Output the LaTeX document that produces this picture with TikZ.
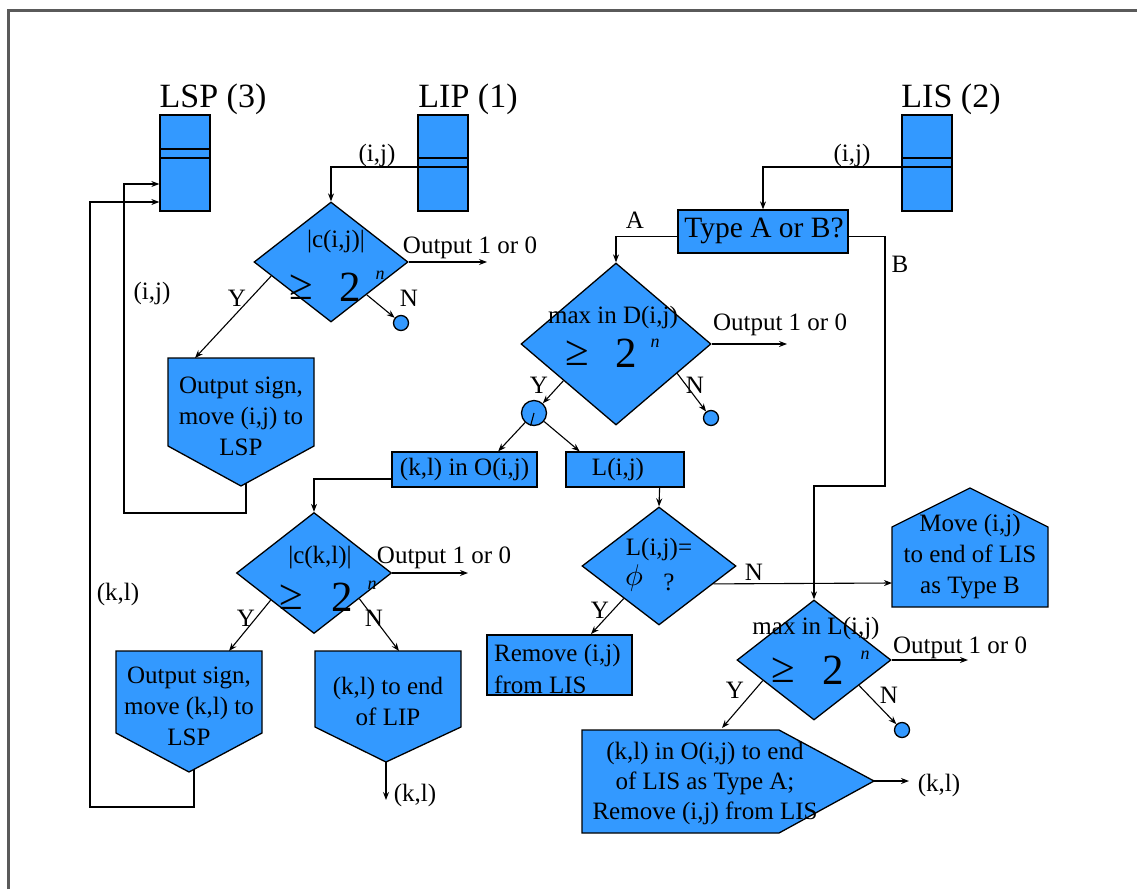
\documentclass[tikz,border=0pt]{standalone}
\usepackage{fontspec}
\setmainfont{Liberation Serif}
\newfontfamily\tms{Liberation Serif}
\usetikzlibrary{shapes.geometric,arrows.meta,calc}
\definecolor{fillblue}{RGB}{51,153,255}
\definecolor{framegray}{RGB}{90,90,90}
\begin{document}
\begin{tikzpicture}[x=1pt,y=-1pt,
  blk/.style={draw=black,fill=fillblue,line width=1.3pt},
  dia/.style={blk,shape=diamond,inner sep=0pt},
  stack/.style={blk,minimum width=50pt,minimum height=96pt,inner sep=0pt},
  boxn/.style={blk,inner sep=0pt},
  conn/.style={line width=1.1pt,draw=black},
  arr/.style={conn,-{Stealth[length=8pt,width=6pt]}},
  lbl/.style={font=\tms\fontsize{25}{31}\selectfont,inner sep=0pt},
  boxtxt/.style={font=\tms\fontsize{29.5}{32}\selectfont,inner sep=0pt},
  bigtxt/.style={font=\tms\fontsize{43}{43}\selectfont,inner sep=0pt},
  suptxt/.style={font=\tms\itshape\fontsize{18}{18}\selectfont,inner sep=0pt},
  headtxt/.style={font=\tms\fontsize{34}{38}\selectfont,inner sep=0pt},
  endc/.style={blk,circle,inner sep=0pt,minimum size=15pt},
]
\useasboundingbox (0,0) rectangle (1137,889);
% frame
\draw[framegray,line width=3pt] (8,889) -- (8,10.5) -- (1137,10.5);

% headers
\node[headtxt] (lsph) at (213,99) {LSP (3)};
\node[headtxt] (liph) at (468,99) {LIP (1)};
\node[headtxt] (lish) at (951,99) {LIS (2)};

% stacks
\node[stack] (lsp) at (185,163) {};
\draw[line width=1.3pt] (lsp.west |- 0,149) -- (lsp.east |- 0,149) (lsp.west |- 0,158) -- (lsp.east |- 0,158);
\node[stack] (lip) at (443,163) {};
\draw[line width=1.3pt] (lip.west |- 0,158) -- (lip.east |- 0,158) (lip.west |- 0,167) -- (lip.east |- 0,167);
\node[stack] (lis) at (927,163) {};
\draw[line width=1.3pt] (lis.west |- 0,158) -- (lis.east |- 0,158) (lis.west |- 0,167) -- (lis.east |- 0,167);

% diamond 1
\node[dia,minimum width=154pt,minimum height=120pt] (d1) at (331,262) {};
\node[lbl] (d1a) at (336,242) {|c(i,j)|};
\node[bigtxt] (d1b) at (301,287) {≥};
\node[bigtxt] (d1c) at (350,287) {2};
\node[suptxt] (d1n) at (380,275) {n};
\draw[arr] (lip.west |- 0,167) -| (d1.north);
\node[lbl] (lij1) at (377,155) {(i,j)};
\coordinate (o1) at (487,262);
\draw[arr] (d1.east) -- (o1);
\node[lbl] (o1t) at (470,248) {Output 1 or 0};
\node[endc] (c1) at (401,323) {};
\draw[arr] ($(d1.east)!0.54!(d1.south)$) -- (c1);
\node[lbl] (n1) at (409,298) {N};
\coordinate (p1top) at (195,358);
\draw[arr] ($(d1.west)!0.23!(d1.south)$) -- (p1top);
\node[lbl] (y1) at (237,298) {Y};

% pentagon 1
\draw[blk] (168,358) -- (314,358) -- (314,446) -- (241,486) -- (168,446) -- cycle;
\node[lbl,align=center] (p1t) at (241,416) {Output sign,\\move (i,j) to\\LSP};
\coordinate (l1s) at (246,483);
\coordinate (l1a) at (246,513);
\coordinate (l1b) at (124,513);
\coordinate (l1c) at (124,184);
\draw[arr] (l1s) -- (l1a) -- (l1b) -- (l1c) -- (lsp.west |- l1c);
\node[lbl] (lij2) at (152,293) {(i,j)};

% type box
\node[boxn,minimum width=170pt,minimum height=43pt] (tb) at (763,231.5) {};
\node[boxtxt] (tbt) at (764,231) {Type A or B?};
\draw[arr] (lis.west |- 0,167) -| (tb.north);
\node[lbl] (lij3) at (852,155) {(i,j)};

% diamond 2
\node[dia,minimum width=190pt,minimum height=162pt] (d2) at (616,344) {};
\node[lbl] (d2a) at (613,317) {max in D(i,j)};
\node[bigtxt] (d2b) at (577,353) {≥};
\node[bigtxt] (d2c) at (626,353) {2};
\node[suptxt] (d2n) at (655,343) {n};
\draw[arr] ($(tb.west)+(0,5)$) -| (d2.north);
\node[lbl] (la) at (635,220) {A};
\coordinate (o2) at (787,344);
\draw[arr] (d2.east) -- (o2);
\node[lbl] (o2t) at (780,325) {Output 1 or 0};
\node[endc] (c3) at (711,418) {};
\draw[arr] ($(d2.east)!0.36!(d2.south)$) -- (c3);
\node[lbl] (n2) at (695,385) {N};
\node[blk,circle,inner sep=0pt,minimum size=25pt] (c2) at (534,413) {};
\draw[arr] ($(d2.west)!0.45!(d2.south)$) -- (c2);
\draw[line width=1.1pt] (c2.center) -- (c2.255);
\node[lbl] (y2) at (539,385) {Y};

% B path
\coordinate (bc) at (885,486);
\node[lbl] (lb) at (900,264) {B};

% O box and L box
\node[boxn,minimum width=145pt,minimum height=35pt] (ob) at (464.5,469.5) {};
\node[lbl] (obt) at (464.5,469) {(k,l) in O(i,j)};
\node[boxn,minimum width=118pt,minimum height=35pt] (lb2) at (625,469.5) {};
\node[lbl] (lbt) at (618,469) {L(i,j)};
\draw[arr] (c2) -- ($(ob.north west)!0.73!(ob.north east)$);
\draw[arr] (c2) -- ($(lb2.north west)!0.12!(lb2.north east)$);

% diamond 3
\node[dia,minimum width=155pt,minimum height=121pt] (d3) at (314,573) {};
\node[lbl] (d3a) at (320,558) {|c(k,l)|};
\node[bigtxt] (d3b) at (291,597) {≥};
\node[bigtxt] (d3c) at (342,597) {2};
\node[suptxt] (d3n) at (372,585) {n};
\draw[arr] ($(ob.west)+(0,9.5)$) -| (d3.north);
\coordinate (o3) at (468,573);
\draw[arr] (d3.east) -- (o3);
\node[lbl] (o3t) at (444,558) {Output 1 or 0};
\coordinate (p2top) at (229,651);
\draw[arr] ($(d3.west)!0.445!(d3.south)$) -- (p2top);
\node[lbl] (y3) at (246,618) {Y};
\coordinate (p3top) at (399,651);
\draw[arr] ($(d3.east)!0.42!(d3.south)$) -- (p3top);
\node[lbl] (n3) at (374,618) {N};

% pentagon 2
\draw[blk] (116,651) -- (262,651) -- (262,733) -- (189,772) -- (116,733) -- cycle;
\node[lbl,align=center] (p2t) at (189,706) {Output sign,\\move (k,l) to\\LSP};
\coordinate (l2s) at (194,769);
\coordinate (l2a) at (194,807);
\coordinate (l2b) at (90,807);
\coordinate (l2c) at (90,202);
\draw[arr] (l2s) -- (l2a) -- (l2b) -- (l2c) -- (lsp.west |- l2c);
\node[lbl] (lkl1) at (118,594) {(k,l)};

% pentagon 3
\draw[blk] (315,651) -- (461,651) -- (461,727) -- (386,762) -- (315,727) -- cycle;
\node[lbl,align=center] (p3t) at (388,701.5) {(k,l) to end\\of LIP};
\coordinate (p3b) at (386,762);
\coordinate (p3e) at (386,800);
\draw[arr] (p3b) -- (p3e);
\node[lbl] (lkl2) at (415,795) {(k,l)};

% diamond 4
\node[dia,minimum width=154pt,minimum height=118pt] (d4) at (659,566) {};
\node[lbl] (d4a) at (659,549) {L(i,j)=};
\node[inner sep=0pt] (d4b) at (634,578) {\scalebox{3.0}{$\phi$}};
\node[lbl] (d4c) at (669,582) {?};
\draw[arr] ($(lb2.south west)!0.79!(lb2.south east)$) -- (d4.north);
\coordinate (mvl) at (892,583);
\draw[arr] ($(d4.east)!0.3!(d4.south)$) -- (mvl);
\node[lbl] (n4) at (754,572) {N};
\coordinate (rbtop) at (591,634);
\draw[arr] ($(d4.west)!0.545!(d4.south)$) -- (rbtop);
\node[lbl] (y4) at (600,610) {Y};

% remove box
\node[boxn,minimum width=145pt,minimum height=60pt] (rb) at (559.5,665) {};
\node[lbl,align=left,anchor=west,font=\tms\fontsize{25}{32}\selectfont] (rbt) at (494,669) {Remove (i,j)\\from LIS};

% move pentagon
\draw[blk] (892,607) -- (892,527) -- (970,488) -- (1048,527) -- (1048,607) -- cycle;
\node[lbl,align=center] (mvt) at (970,557) {Move (i,j)\\to end of LIS\\as Type B};

% diamond 5
\node[dia,minimum width=154pt,minimum height=120pt] (d5) at (814,660) {};
\draw[arr] ($(tb.east)+(0,5)$) -| (bc) -| (d5.north);
\node[lbl] (d5a) at (816,628) {max in L(i,j)};
\node[bigtxt] (d5b) at (783,670) {≥};
\node[bigtxt] (d5c) at (833,670) {2};
\node[suptxt] (d5n) at (865,655) {n};
\coordinate (o5) at (968,660);
\draw[arr] (d5.east) -- (o5);
\node[lbl] (o5t) at (960,648) {Output 1 or 0};
\coordinate (p4top) at (722,728);
\draw[arr] ($(d5.west)!0.34!(d5.south)$) -- (p4top);
\node[lbl] (y5) at (735,690) {Y};
\node[endc] (c4) at (902,730) {};
\draw[arr] ($(d5.east)!0.42!(d5.south)$) -- (c4);
\node[lbl] (n5) at (889,695) {N};

% pentagon 4
\draw[blk] (582,730) -- (779,730) -- (874,781) -- (779,833) -- (582,833) -- cycle;
\node[lbl,align=center,font=\tms\fontsize{25}{30}\selectfont] (p4t) at (705,783) {(k,l) in O(i,j) to end\\of LIS as Type A;\\Remove (i,j) from LIS};
\coordinate (p4p) at (874,781);
\coordinate (p4e) at (909,781);
\draw[arr] (p4p) -- (p4e);
\node[lbl] (lkl3) at (939,785) {(k,l)};
\end{tikzpicture}
\end{document}
